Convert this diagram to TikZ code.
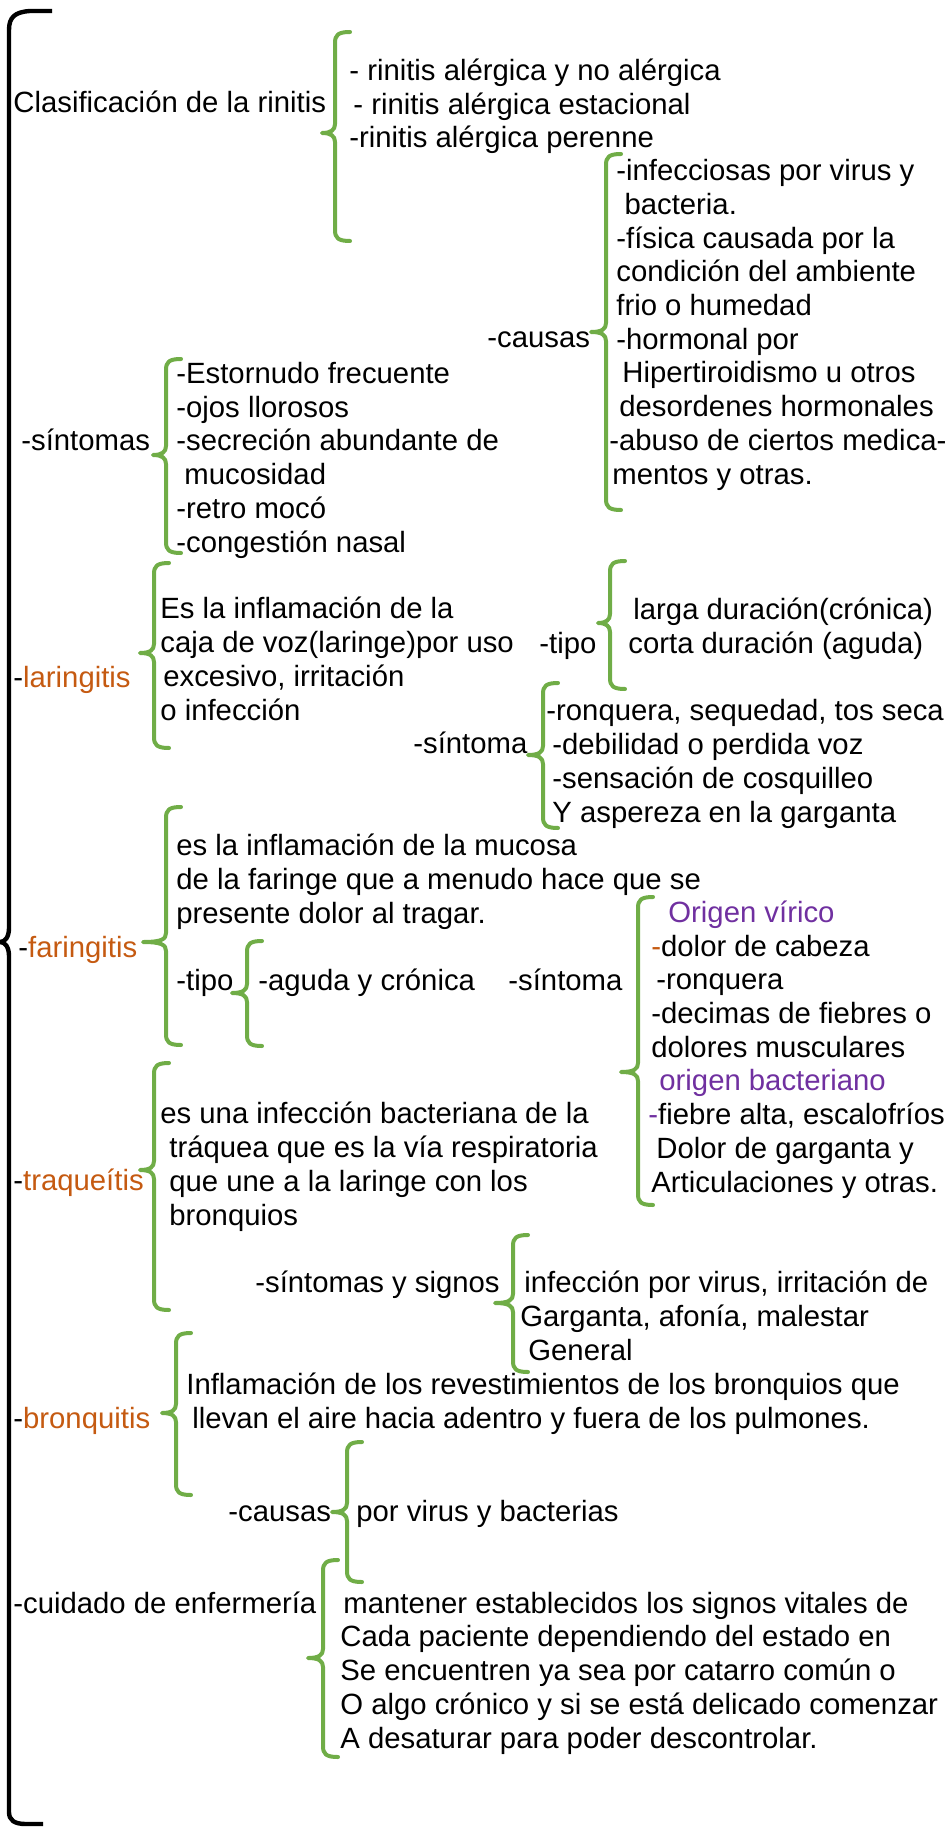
\documentclass[tikz,border=0pt]{standalone}
\usepackage{fontspec}
\setmainfont{Liberation Sans}
\usepackage{tikz}
\definecolor{verde}{HTML}{70AD47}
\definecolor{naranja}{HTML}{C55A11}
\definecolor{morado}{HTML}{7030A0}
% llave verde: x, arriba, abajo, punta, profundidad
\newcommand{\llave}[5]{%
  \draw[llave] ({#1+15},#2) .. controls ({#1+3},#2) and (#1,{#2+3}) .. (#1,{#2+11})
    -- (#1,{#4-9}) .. controls (#1,{#4-3}) and ({#1-4},#4) .. ({#1-#5},#4)
    .. controls ({#1-4},#4) and (#1,{#4+3}) .. (#1,{#4+9})
    -- (#1,{#3-11}) .. controls (#1,{#3-3}) and ({#1+3},#3) .. ({#1+15},#3);}

\begin{document}
\begin{tikzpicture}[x=0.5pt,y=-0.5pt,
    txt/.style={anchor=base west,inner sep=0pt,align=left,font=\fontsize{14.65pt}{16.85pt}\selectfont},
    llave/.style={verde,line width=2pt,line cap=round,line join=round}]
    \useasboundingbox (0,0) rectangle (944,1829);
    % llave grande
    \draw[line width=2.2pt] (52,11) -- (30,11) .. controls (15,12) and (9,17) .. (9,30) -- (9,928)
        .. controls (9,937) and (5,942) .. (0,942) .. controls (5,942) and (9,947) .. (9,956)
        -- (9,1812) .. controls (9,1820) and (14,1824) .. (26,1824) -- (43,1824);
    % (los textos de varias lineas van por la linea base de la ultima)

    % clasificacion
    \node[txt] (clasif) at (13,113) {Clasificación de la rinitis};
    \llave{335}{32}{241}{133}{13}
    \node[txt] (tipos) at (349,148) {- rinitis alérgica y no alérgica\\\hspace{2pt}- rinitis alérgica estacional\\-rinitis alérgica perenne};

    % causas
    \node[txt] (causas) at (487,348) {-causas};
    \llave{606}{154}{510}{332}{15}
    \node[txt] (lcausas) at (616,484) {-infecciosas por virus y\\\ bacteria.\\-física causada por la\\condición del ambiente\\frio o humedad\\-hormonal por\\\hspace{3pt}Hipertiroidismo u otros\\\hspace{1.5pt}desordenes hormonales\\\hspace{-3.5pt}-abuso de ciertos medica-\\\hspace{-2pt}mentos y otras.};

    % sintomas
    \node[txt] (sint) at (21,450) {-síntomas};
    \llave{166}{359}{553}{455}{13}
    \node[txt] (lsint) at (176,552) {-Estornudo frecuente\\-ojos llorosos\\-secreción abundante de\\\hspace{4pt}mucosidad\\-retro mocó\\-congestión nasal};

    % laringitis
    \node[txt] (lar) at (13,687) {-\textcolor{naranja}{laringitis}};
    \llave{154}{563}{748}{653}{14}
    \node[txt] (deflar) at (160,720) {Es la inflamación de la\\caja de voz(laringe)por uso\\\hspace{1.5pt}excesivo, irritación\\o infección};
    \node[txt] (tipolar) at (539,653) {-tipo};
    \llave{610}{561}{689}{623}{12}
    \node[txt] (ltipolar) at (628,653) {\hspace{2.5pt}larga duración(crónica)\\corta duración (aguda)};
    \node[txt] (sintlar) at (413,753) {-síntoma};
    \llave{543}{683}{828}{755}{15}
    \node[txt] (lsintlar) at (552,822) {\hspace{-3pt}-ronquera, sequedad, tos seca\\-debilidad o perdida voz\\-sensación de cosquilleo\\Y aspereza en la garganta};

    % faringitis
    \node[txt] (far) at (18,957) {-\textcolor{naranja}{faringitis}};
    \llave{166}{807}{1045}{942}{23}
    \node[txt] (deffar) at (176,923) {es la inflamación de la mucosa\\de la faringe que a menudo hace que se\\presente dolor al tragar.};
    \node[txt] (tipofar) at (176,990) {-tipo};
    \llave{247}{941}{1046}{993}{15}
    \node[txt] (ltipofar) at (258,990) {-aguda y crónica};
    \node[txt] (sintfar) at (508,990) {-síntoma};
    \llave{638}{897}{1205}{1072}{17}
    \node[txt] (lsintfar) at (651,1192) {\hspace{8.5pt}\textcolor{morado}{Origen vírico}\\\textcolor{naranja}{-}dolor de cabeza\\\hspace{2.5pt}-ronquera\\-decimas de fiebres o\\dolores musculares\\\hspace{4pt}\textcolor{morado}{origen bacteriano}\\\hspace{-1.5pt}\textcolor{morado}{-}fiebre alta, escalofríos\\\hspace{2.5pt}Dolor de garganta y\\Articulaciones y otras.};

    % traqueitis
    \node[txt] (traq) at (13,1190) {-\textcolor{naranja}{traqueítis}};
    \llave{154}{1063}{1310}{1170}{14}
    \node[txt] (deftraq) at (160,1225) {es una infección bacteriana de la\\\hspace{4.5pt}tráquea que es la vía respiratoria\\\hspace{4.5pt}que une a la laringe con los\\\hspace{4.5pt}bronquios};
    \node[txt] (signos) at (255,1292) {-síntomas y signos};
    \llave{513}{1235}{1372}{1303}{18}
    \node[txt] (lsignos) at (520,1360) {\hspace{2pt}infección por virus, irritación de\\Garganta, afonía, malestar\\\hspace{4pt}General};

    % bronquitis
    \node[txt] (bron) at (13,1428) {-\textcolor{naranja}{bronquitis}};
    \llave{176}{1333}{1495}{1413}{14}
    \node[txt] (defbron) at (186,1428) {Inflamación de los revestimientos de los bronquios que\\\hspace{3pt}llevan el aire hacia adentro y fuera de los pulmones.};
    \node[txt] (causbron) at (228,1521) {-causas};
    \llave{347}{1442}{1582}{1512}{15}
    \node[txt] (lcausbron) at (356,1521) {por virus y bacterias};

    % cuidado
    \node[txt] (cuid) at (13,1613) {-cuidado de enfermería};
    \llave{323}{1560}{1757}{1658}{15}
    \node[txt] (lcuid) at (340,1748) {\hspace{1.5pt}mantener establecidos los signos vitales de\\Cada paciente dependiendo del estado en\\Se encuentren ya sea por catarro común o\\O algo crónico y si se está delicado comenzar\\A desaturar para poder descontrolar.};
\end{tikzpicture}
\end{document}
